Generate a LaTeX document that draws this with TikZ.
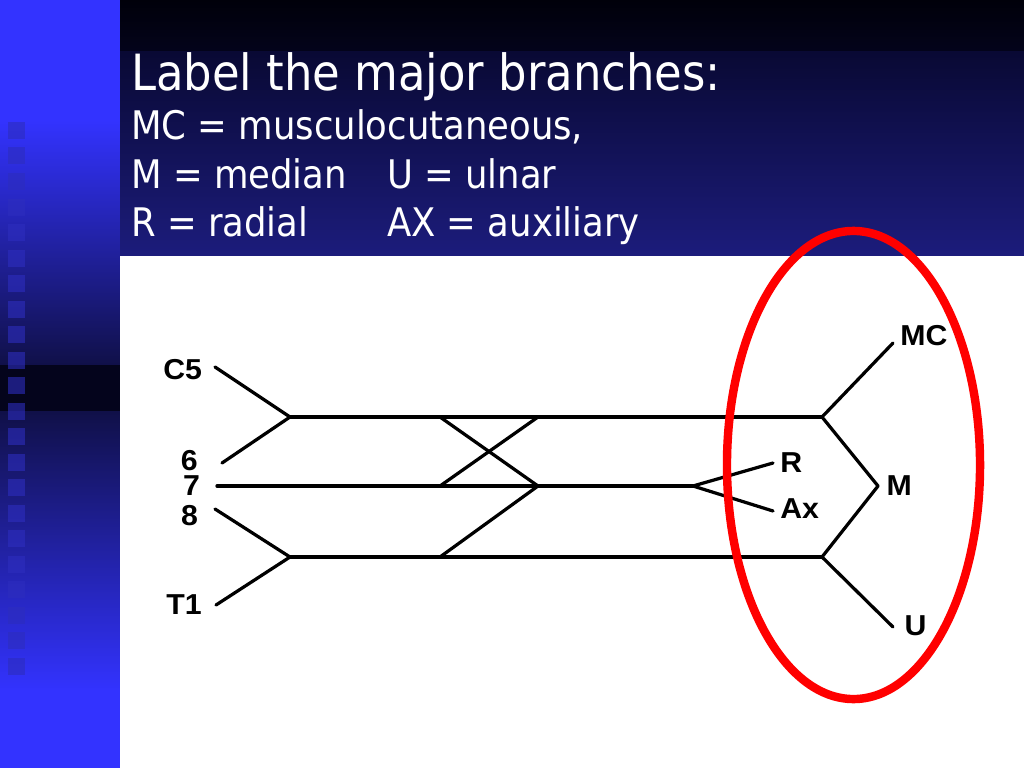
\documentclass[tikz,border=0pt]{standalone}
\usepackage{fontspec}
\usepackage{xcolor}
\usepackage{tikz}
\usetikzlibrary{positioning}
\newfontfamily\slidefont{DejaVu Sans Condensed}
\newfontfamily\figfont{Liberation Sans}
\definecolor{stripblue}{RGB}{51,51,255}
\definecolor{stripmid}{RGB}{16,16,72}
\definecolor{stripdark}{RGB}{4,4,28}
\definecolor{squareblue}{RGB}{45,45,190}
\definecolor{headtop}{RGB}{0,0,10}
\definecolor{headmid}{RGB}{9,9,52}
\definecolor{headbot}{RGB}{28,28,124}
\definecolor{ringred}{RGB}{255,0,0}
\tikzset{
	every picture/.style={/utils/exec={\figfont}},
	every node/.style = {inner sep = 0},
	nerve/.style = {line width=2.3pt, line cap=round, line join=round},
	lbl/.style = {font=\figfont\bfseries\fontsize{20.5}{24}\selectfont},
	head/.style = {text=white, anchor=base west, font=\slidefont\fontsize{28}{32}\selectfont}
}
\newcommand{\wide}[1]{\scalebox{1.05}[1]{#1}}

\begin{document}
\begin{tikzpicture}[x=0.025cm, y=-0.025cm]
		\useasboundingbox (0,0) rectangle (1024,768);
		
		\fill[stripblue] (0,0) rectangle (120,121);
		\shade[top color=stripblue, bottom color=stripmid] (0,120) rectangle (120,366);
		\fill[stripdark] (0,365) rectangle (120,412);
		\shade[top color=stripmid, bottom color=stripblue] (0,411) rectangle (120,691);
		\fill[stripblue] (0,690) rectangle (120,768);
		\foreach \k in {0,...,21}
			\fill[squareblue, opacity=0.6] (8,{122+25.5*\k}) rectangle ++(17,17);
		
		\shade[top color=headtop, bottom color=headtop!60!headmid] (120,0) rectangle (1024,52);
		\shade[top color=headmid, bottom color=headbot] (120,52) rectangle (1024,256);
		\fill[white] (120,256) rectangle (1024,768);
		
		\node[head, font=\slidefont\fontsize{35.5}{40}\selectfont] (title) at (131,91) {Label the major branches:};
		\node[head] (mcdef) at (131,140) {MC = musculocutaneous,};
		\node[head] (mdef) at (131,188) {M = median};
		\node[head] (udef) at (387,188) {U = ulnar};
		\node[head] (rdef) at (131,236) {R = radial};
		\node[head] (axdef) at (387,236) {AX = auxiliary};
		
		\coordinate (c5end) at (215,367);
		\coordinate (sixend) at (222,463);
		\coordinate (sevenend) at (217,486);
		\coordinate (eightend) at (215,509);
		\coordinate (t1end) at (216,605);
		\coordinate (uptrunk) at (290,417);
		\coordinate (lotrunk) at (290,557);
		\coordinate (updiv) at (440,417);
		\coordinate (middiv) at (440,486);
		\coordinate (lodiv) at (440,557);
		\coordinate (upjoin) at (538,417);
		\coordinate (midjoin) at (538,486);
		\coordinate (posterior) at (693,486);
		\coordinate (lateral) at (822,417);
		\coordinate (medial) at (822,557);
		\coordinate (mjoin) at (878,486);
		\coordinate (mcend) at (893,343);
		\coordinate (uend) at (893,627);
		\coordinate (rend) at (773,463);
		\coordinate (axend) at (773,511);
		
		\draw[nerve] (c5end) -- (uptrunk) -- (sixend);
		\draw[nerve] (eightend) -- (lotrunk) -- (t1end);
		\draw[nerve] (uptrunk) -- (lateral);
		\draw[nerve] (sevenend) -- (posterior);
		\draw[nerve] (lotrunk) -- (medial);
		\draw[nerve] (updiv) -- (midjoin) -- (lodiv);
		\draw[nerve] (middiv) -- (upjoin);
		\draw[nerve] (mcend) -- (lateral) -- (mjoin) -- (medial) -- (uend);
		\draw[nerve] (rend) -- (posterior) -- (axend);
		
		\node[lbl, left=9pt of c5end, yshift=-2pt] (c5) {\wide{C5}};
		\node[lbl, left=17pt of sixend, yshift=2pt] (six) {\wide{6}};
		\node[lbl, left=12pt of sevenend] (seven) {\wide{7}};
		\node[lbl, left=12pt of eightend, yshift=-5pt] (eight) {\wide{8}};
		\node[lbl, left=10pt of t1end] (tone) {\wide{T1}};
		\node[lbl, right=5pt of mcend, yshift=5pt] (mc) {\wide{MC}};
		\node[lbl, right=6pt of mjoin] (m) {\wide{M}};
		\node[lbl, right=8pt of uend, yshift=1pt] (u) {\wide{U}};
		\node[lbl, right=5pt of rend] (r) {\wide{R}};
		\node[lbl, right=5pt of axend, yshift=2pt] (ax) {\wide{Ax}};
		
		\draw[ringred, line width=6pt] (853.5,465) ellipse [x radius=3.1625cm, y radius=5.85cm];
\end{tikzpicture}
\end{document}
